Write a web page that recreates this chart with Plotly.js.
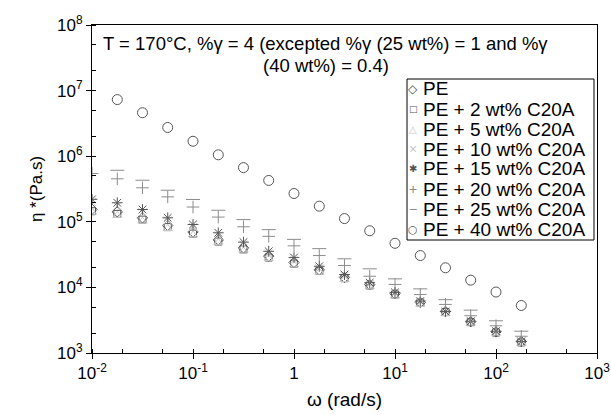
<!DOCTYPE html>
<html>
<head>
<meta charset="utf-8">
<script src="https://cdn.plot.ly/plotly-3.0.1.min.js"></script>
<style>html,body{margin:0;padding:0;background:#fff}#chart{width:611px;height:415px}</style>
</head>
<body>
<div id="chart"></div>
<script>
// angular frequency (rad/s)
const omega = [0.01,0.0178,0.0316,0.0562,0.1,0.178,0.316,0.562,1,1.78,3.16,5.62,10,17.8,31.6,56.2,100,178];
const omega25 = omega.slice(1);
const omega40 = omega.slice(1);

// complex viscosity (Pa.s)
const etaPE   = [1.55e5,1.42e5,1.15e5,8.8e4,7.0e4,5.3e4,4.0e4,3.0e4,2.4e4,1.85e4,1.42e4,1.1e4,8.0e3,5.9e3,4.3e3,3.0e3,2.1e3,1.5e3];
const etaPE2  = [1.45e5,1.32e5,1.08e5,8.3e4,6.6e4,5.0e4,3.8e4,2.85e4,2.3e4,1.78e4,1.38e4,1.07e4,7.8e3,5.8e3,4.2e3,2.95e3,2.05e3,1.45e3];
const etaPE5  = [1.4e5,1.25e5,1.02e5,7.9e4,6.3e4,4.8e4,3.6e4,2.75e4,2.2e4,1.7e4,1.32e4,1.02e4,7.4e3,5.5e3,4.0e3,2.85e3,2.0e3,1.4e3];
const etaPE10 = [2.0e5,1.75e5,1.4e5,1.05e5,8.3e4,6.2e4,4.5e4,3.3e4,2.65e4,1.95e4,1.5e4,1.12e4,8.1e3,6.0e3,4.2e3,3.0e3,2.1e3,1.5e3];
const etaPE15 = [2.2e5,1.95e5,1.54e5,1.15e5,9.1e4,6.8e4,4.9e4,3.55e4,2.85e4,2.1e4,1.57e4,1.18e4,8.4e3,6.2e3,4.3e3,3.05e3,2.15e3,1.5e3];
const etaPE20 = [5.45e5,4.52e5,3.3e5,2.4e5,1.68e5,1.18e5,8.4e4,6.0e4,4.3e4,3.06e4,2.16e4,1.48e4,1.11e4,7.8e3,5.5e3,3.7e3,2.6e3,1.8e3];
const etaPE25 = [6.1e5,4.3e5,3.03e5,2.19e5,1.5e5,1.08e5,7.6e4,5.4e4,3.9e4,2.73e4,1.92e4,1.35e4,9.5e3,6.5e3,4.5e3,3.1e3,2.15e3];
const etaPE40 = [7.3e6,4.6e6,2.74e6,1.69e6,1.05e6,6.7e5,4.27e5,2.7e5,1.73e5,1.12e5,7.3e4,4.7e4,3.06e4,1.99e4,1.29e4,8.5e3,5.3e3];

const seriesNames = ["PE","PE + 2 wt% C20A","PE + 5 wt% C20A","PE + 10 wt% C20A","PE + 15 wt% C20A","PE + 20 wt% C20A","PE + 25 wt% C20A","PE + 40 wt% C20A"];
const legendGlyphs = ["◇","□","△","×","✱","+","−","○"];

const xTickVals = [0.01,0.1,1,10,100,1000];
const xTickText = ["10<sup>-2</sup>","10<sup>-1</sup>","1","10<sup>1</sup>","10<sup>2</sup>","10<sup>3</sup>"];
const yTickVals = [1e3,1e4,1e5,1e6,1e7,1e8];
const yTickText = ["10<sup>3</sup>","10<sup>4</sup>","10<sup>5</sup>","10<sup>6</sup>","10<sup>7</sup>","10<sup>8</sup>"];

const dark = "#555555", light = "#c8c8c8", mid = "#8c8c8c";
const colors = [dark, dark, light, light, dark, mid, mid, dark];
const glyphSizes = [12, 9, 10, 14, 10, 14, 14, 11];
const glyphFonts = ["DejaVu Sans","DejaVu Sans","DejaVu Sans","Liberation Sans","DejaVu Sans","Liberation Sans","Liberation Sans","DejaVu Sans"];
function tr(x, y, i, symbol, size){
  return {x:x, y:y, name:seriesNames[i], type:"scatter", mode:"markers", showlegend:false,
    marker:{symbol:symbol, size:size, color:colors[i], line:{color:colors[i], width:1}}};
}
const data = [
  tr(omega, etaPE,   0, "diamond-open", 8),
  tr(omega, etaPE2,  1, "square-open", 7),
  tr(omega, etaPE5,  2, "triangle-up-open", 8),
  tr(omega, etaPE10, 3, "x-thin-open", 8),
  tr(omega, etaPE15, 4, "asterisk-open", 9),
  tr(omega, etaPE20, 5, "cross-thin-open", 9),
  tr(omega25, etaPE25, 6, "line-ew-open", 10),
  tr(omega40, etaPE40, 7, "circle-open", 10)
];

// plot area geometry in pixels (for paper-coordinate placement)
const L = 92, R = 597, T = 25, B = 353;
const px = v => (v - L) / (R - L);
const py = v => (B - v) / (B - T);

const annotations = [
  {xref:"paper", yref:"paper", x:px(325.5), y:py(43.5), xanchor:"center", yanchor:"middle", showarrow:false,
   font:{size:18.5}, text:"T = 170°C, %γ = 4 (excepted %γ (25 wt%) = 1 and %γ"},
  {xref:"paper", yref:"paper", x:px(325.5), y:py(65.5), xanchor:"center", yanchor:"middle", showarrow:false,
   font:{size:18.5}, text:"(40 wt%) = 0.4)"}
];
seriesNames.forEach((n, i) => {
  annotations.push({xref:"paper", yref:"paper", x:px(413), y:py(89 + 20*i), xanchor:"center", yanchor:"middle",
    showarrow:false, font:{size:glyphSizes[i], color:colors[i], family:glyphFonts[i]}, text:legendGlyphs[i]});
  annotations.push({xref:"paper", yref:"paper", x:px(421), y:py(89 + 20*i), xanchor:"left", yanchor:"middle",
    showarrow:false, font:{size:19}, text:n});
});

const fnt = {family:"Liberation Sans, Arial, sans-serif", size:17, color:"#000"};
const layout = {
  width:611, height:415,
  margin:{l:L, r:611-R, t:T, b:415-B},
  paper_bgcolor:"#fff", plot_bgcolor:"#fff",
  font:fnt,
  showlegend:false,
  xaxis:{type:"log", range:[-2,3], tickvals:xTickVals, ticktext:xTickText,
    ticks:"outside", ticklen:5, tickcolor:"#000", showgrid:false, zeroline:false,
    showline:true, linecolor:"#000", linewidth:1, mirror:true,
    minor:{ticks:"inside", ticklen:4, tickcolor:"#000", showgrid:false},
    tickfont:{size:17}, title:{text:"ω (rad/s)", font:{size:19}, standoff:10}},
  yaxis:{type:"log", range:[3,8], tickvals:yTickVals, ticktext:yTickText,
    ticks:"outside", ticklen:5, tickcolor:"#000", showgrid:false, zeroline:false,
    showline:true, linecolor:"#000", linewidth:1, mirror:true,
    minor:{ticks:"inside", ticklen:4, tickcolor:"#000", showgrid:false},
    tickfont:{size:17}, title:{text:"η *(Pa.s)", font:{size:17}, standoff:10}},
  xaxis2:{type:"log", range:[-2,3], overlaying:"x", anchor:"y", side:"bottom",
    tickvals:xTickVals, ticks:"inside", ticklen:6, tickcolor:"#000", showticklabels:false,
    showgrid:false, zeroline:false, showline:false},
  yaxis2:{type:"log", range:[3,8], overlaying:"y", anchor:"x", side:"left",
    tickvals:yTickVals, ticks:"inside", ticklen:6, tickcolor:"#000", showticklabels:false,
    showgrid:false, zeroline:false, showline:false},
  shapes:[
    {type:"rect", xref:"paper", yref:"paper", x0:px(407), x1:px(594), y0:py(240), y1:py(79),
     line:{color:"#000", width:1}, fillcolor:"#fff", layer:"above"}
  ],
  annotations:annotations
};
Plotly.newPlot("chart", data, layout, {displayModeBar:false, staticPlot:true});
</script>
</body>
</html>
